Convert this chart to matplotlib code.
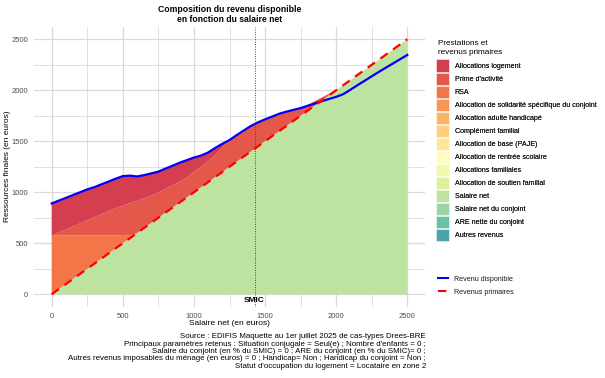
import matplotlib
matplotlib.use("Agg")
import matplotlib.pyplot as plt
from matplotlib.patches import Patch
from matplotlib.lines import Line2D

plt.rcParams['font.family'] = ['Liberation Sans', 'DejaVu Sans']

# ---------------- data ----------------
salaire = [0, 50, 100, 150, 200, 250, 300, 350, 400, 450, 500, 550, 600, 650, 700, 750,
           800, 850, 900, 950, 1000, 1050, 1100, 1150, 1200, 1250, 1300, 1350, 1400, 1450,
           1500, 1550, 1600, 1650, 1700, 1750, 1800, 1850, 1900, 1950, 2000, 2050, 2100,
           2150, 2200, 2250, 2300, 2350, 2400, 2450, 2500]

salaire_net = [0, 50, 100, 150, 200, 250, 300, 350, 400, 450, 500, 550, 600, 650, 700, 750,
               800, 850, 900, 950, 1000, 1050, 1100, 1150, 1200, 1250, 1300, 1350, 1400, 1450,
               1500, 1550, 1600, 1650, 1700, 1750, 1800, 1850, 1900, 1950, 2000, 2050, 2100,
               2150, 2200, 2250, 2300, 2350, 2400, 2450, 2500]

rsa = [575, 525, 475, 425, 375, 325, 275, 225, 175, 125, 75, 25] + [0] * 39

prime_activite = [0, 30, 60, 90, 120, 150, 180, 210, 240, 268, 295, 318, 317, 290, 264, 248,
                  233, 218, 203, 195, 200, 200, 203, 215, 235, 262, 260, 255, 250, 235,
                  215, 192, 170, 142, 110, 78, 56, 43, 30, 16, 2] + [0] * 10

allocations_logement = [315, 313, 310, 308, 305, 303, 295, 293, 290, 290, 288, 270, 238, 228,
                        221, 204, 199, 192, 187, 170, 140, 110, 87, 70, 40, 0] + [0] * 25

revenu_disponible = [890, 918, 945, 973, 1000, 1028, 1050, 1078, 1105, 1133, 1158, 1163, 1155,
                     1168, 1185, 1202, 1232, 1260, 1290, 1315, 1340, 1360, 1390, 1435, 1475,
                     1512, 1560, 1605, 1650, 1685, 1715, 1742, 1770, 1790, 1808, 1825, 1848,
                     1870, 1893, 1915, 1935, 1962, 2005, 2050, 2093, 2137, 2180, 2222, 2263,
                     2305, 2346]

revenus_primaires = list(salaire_net)

smic = 1426

legend_title = ["Prestations et", "revenus primaires"]
legend_labels = ["Allocations logement", "Prime d'activité", "RSA",
                 "Allocation de solidarité spécifique du conjoint",
                 "Allocation adulte handicapé", "Complément familial",
                 "Allocation de base (PAJE)", "Allocation de rentrée scolaire",
                 "Allocations familiales", "Allocation de soutien familial",
                 "Salaire net", "Salaire net du conjoint", "ARE nette du conjoint",
                 "Autres revenus"]
legend_colors = ["#D53E4F", "#E4574B", "#F47548", "#F99656", "#FDB365", "#FECF7F",
                 "#FEE597", "#FFFDBE", "#F0F8AC", "#DDF19D", "#BCE4A0", "#98D4A4",
                 "#69C2A4", "#4BA4AC"]
col = dict(zip(legend_labels, legend_colors))

x_ticks = [0, 500, 1000, 1500, 2000, 2500]
y_ticks = [0, 500, 1000, 1500, 2000, 2500]

caption_lines = [
    "Source : EDIFIS Maquette au 1er juillet 2025 de cas-types Drees-BRE",
    "Principaux paramètres retenus : Situation conjugale = Seul(e) ; Nombre d'enfants = 0 ;",
    "Salaire du conjoint (en % du SMIC) = 0 ; ARE du conjoint (en % du SMIC)= 0 ;",
    "Autres revenus imposables du ménage (en euros) = 0 ; Handicap= Non ; Handicap du conjoint = Non ;",
    "Statut d'occupation du logement = Locataire en zone 2",
]

# ---------------- figure ----------------
W, H = 605, 378
fig = plt.figure(figsize=(W / 100, H / 100), dpi=100)
left, right, top, bottom = 33.9, 425.1, 26.5, 307.0
ax = fig.add_axes([left / W, 1 - bottom / H, (right - left) / W, (bottom - top) / H])

ax.stackplot(salaire, salaire_net, rsa, prime_activite, allocations_logement,
             colors=[col["Salaire net"], col["RSA"], col["Prime d'activité"],
                     col["Allocations logement"]], linewidth=0, zorder=2)
ax.plot(salaire, revenu_disponible, color="#0000FF", lw=1.6, zorder=4)
ax.plot(salaire, revenus_primaires, color="#FF0000", lw=1.6, dashes=(4, 3), zorder=5)

ax.axvline(smic, color="#444444", lw=0.7, ls=(0, (1, 1.5)), zorder=6)
ax.text(smic, -62, "SMIC", ha="center", va="center", fontsize=6, fontweight="bold",
        color="black", zorder=7)

ax.set_xlim(-125, 2625)
ax.set_ylim(-125, 2625)
ax.set_xticks(x_ticks)
ax.set_yticks(y_ticks)
ax.set_xticks([250, 750, 1250, 1750, 2250], minor=True)
ax.set_yticks([250, 750, 1250, 1750, 2250], minor=True)
ax.grid(True, which="major", color="#DADADA", lw=0.9, zorder=0)
ax.grid(True, which="minor", color="#DADADA", lw=0.6, zorder=0)
ax.set_axisbelow(True)
for s in ax.spines.values():
    s.set_visible(False)
ax.tick_params(which="both", length=0, labelsize=5.5, labelcolor="#4D4D4D", pad=4)

ax.set_xlabel("Salaire net (en euros)", fontsize=6, color="black")
ax.set_ylabel("Ressources finales (en euros)", fontsize=6, color="black")
ax.xaxis.set_label_coords(0.5, -0.045)
ax.yaxis.set_label_coords(-0.058, 0.5)

ax.set_title("Composition du revenu disponible\nen fonction du salaire net",
             fontsize=6.2, fontweight="bold", pad=3, linespacing=1.15)

# caption
y0 = 337.0
for i, line in enumerate(caption_lines):
    fig.text(426 / W, 1 - (y0 + i * 7.3) / H, line, ha="right", va="center",
             fontsize=5.7, color="black")

# legend title
for i, t in enumerate(legend_title):
    fig.text(437.5 / W, 1 - (43.3 + i * 8.8) / H, t, ha="left", va="center",
             fontsize=5.9, color="black")

# legends
handles = [Patch(facecolor=c, edgecolor="white", linewidth=0.4) for c in legend_colors]
leg1 = fig.legend(handles, legend_labels, loc="upper left",
                  bbox_to_anchor=(436 / W, 1 - 59.5 / H), frameon=False,
                  fontsize=5.1, borderpad=0,
                  handlelength=1.84, handleheight=2.3, labelspacing=0.1,
                  handletextpad=0.8, borderaxespad=0, labelcolor="#1A1A1A")
fig.add_artist(leg1)

line_handles = [Line2D([], [], color="#0000FF", lw=1.5),
                Line2D([], [], color="#FF0000", lw=1.5, dashes=(4, 3))]
fig.legend(line_handles, ["Revenu disponible", "Revenus primaires"], loc="upper left",
           bbox_to_anchor=(438 / W, 1 - 274.5 / H), frameon=False, fontsize=5.1,
           borderpad=0, handlelength=1.45, handleheight=1.5, labelspacing=0.58,
           handletextpad=0.8, borderaxespad=0, labelcolor="#1A1A1A")

fig.savefig("out.png", dpi=100, facecolor="white")
